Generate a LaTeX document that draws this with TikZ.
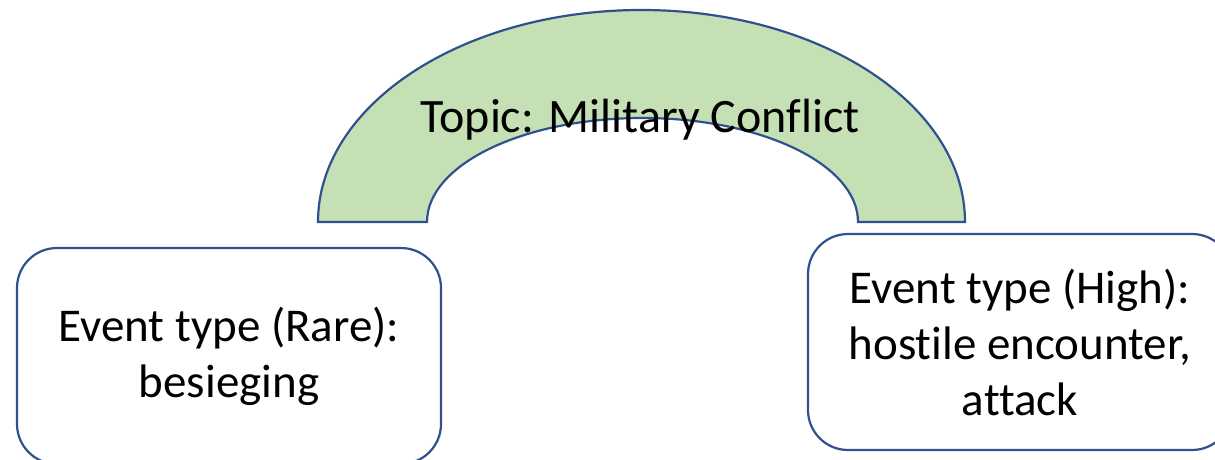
\documentclass[tikz,border=0pt]{standalone}
\usepackage{fontspec}
\setmainfont{Carlito}[Ligatures=CommonOff]
\definecolor{edgeblue}{HTML}{2F528F}
\definecolor{archgreen}{HTML}{C5E0B4}
\begin{document}
\begin{tikzpicture}[x=1pt,y=1pt,
  bigtext/.style={font=\fontsize{47}{56}\selectfont},
  boxstyle/.style={draw=edgeblue, line width=2.2pt, fill=white, rounded corners=40pt,
    minimum width=424pt, minimum height=216pt, inner sep=0pt, align=center, bigtext},
  archstyle/.style={draw=edgeblue, line width=2.2pt, fill=archgreen}]
\useasboundingbox (0,0) rectangle (1215,459);
\clip (0,0) rectangle (1215,459);
\draw[archstyle] (318,237) arc[start angle=180, end angle=0, x radius=323.5, y radius=212]
  -- (858,237) arc[start angle=0, end angle=180, x radius=215.5, y radius=104] -- cycle;
\node[font=\fontsize{48}{56}\selectfont, anchor=base, inner sep=0pt] (topic) at (640,327) {Topic: Military Conflict};
\node[boxstyle] (rare) at (229,103) {Event type (Rare):\\besieging};
\node[boxstyle] (high) at (1020,117) {Event type (High):\\hostile encounter,\\attack};
\end{tikzpicture}
\end{document}
